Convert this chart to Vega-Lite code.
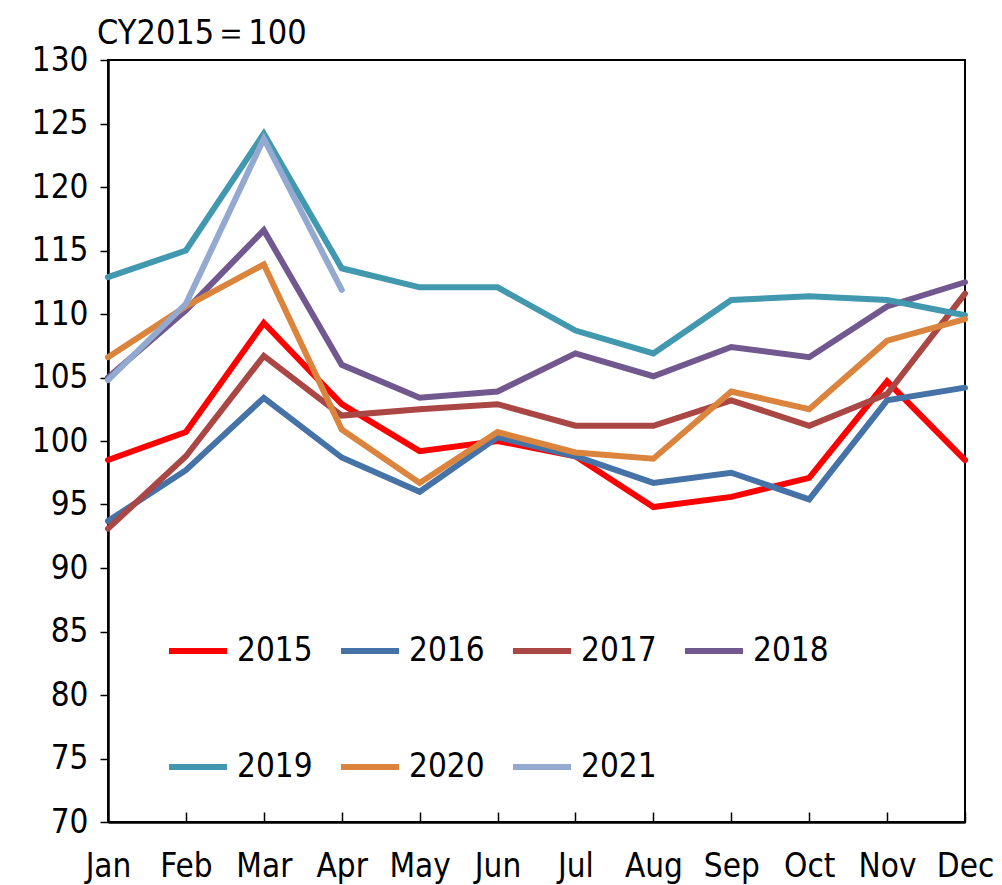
{
  "$schema": "https://vega.github.io/schema/vega-lite/v6.json",
  "width": 857,
  "height": 762,
  "autosize": {"type": "none"},
  "padding": {"left": 108, "top": 60, "right": 37, "bottom": 63},
  "background": "white",
  "config": {
    "font": "DejaVu Sans Condensed, sans-serif",
    "view": {"stroke": "black", "strokeWidth": 2}
  },
  "title": {
    "text": "CY2015＝100",
    "anchor": "start",
    "frame": "group",
    "dx": -11,
    "dy": 25,
    "offset": 18,
    "fontSize": 34,
    "fontWeight": "normal",
    "color": "black",
    "font": "DejaVu Sans Condensed, sans-serif"
  },
  "data": {
    "values": [
      {"year": "2015", "month": "Jan", "value": 98.5},
      {"year": "2015", "month": "Feb", "value": 100.7},
      {"year": "2015", "month": "Mar", "value": 109.3},
      {"year": "2015", "month": "Apr", "value": 102.9},
      {"year": "2015", "month": "May", "value": 99.2},
      {"year": "2015", "month": "Jun", "value": 100.0},
      {"year": "2015", "month": "Jul", "value": 98.8},
      {"year": "2015", "month": "Aug", "value": 94.8},
      {"year": "2015", "month": "Sep", "value": 95.6},
      {"year": "2015", "month": "Oct", "value": 97.1},
      {"year": "2015", "month": "Nov", "value": 104.7},
      {"year": "2015", "month": "Dec", "value": 98.5},
      {"year": "2016", "month": "Jan", "value": 93.7},
      {"year": "2016", "month": "Feb", "value": 97.7},
      {"year": "2016", "month": "Mar", "value": 103.4},
      {"year": "2016", "month": "Apr", "value": 98.7},
      {"year": "2016", "month": "May", "value": 96.0},
      {"year": "2016", "month": "Jun", "value": 100.3},
      {"year": "2016", "month": "Jul", "value": 98.8},
      {"year": "2016", "month": "Aug", "value": 96.7},
      {"year": "2016", "month": "Sep", "value": 97.5},
      {"year": "2016", "month": "Oct", "value": 95.4},
      {"year": "2016", "month": "Nov", "value": 103.2},
      {"year": "2016", "month": "Dec", "value": 104.2},
      {"year": "2017", "month": "Jan", "value": 93.1},
      {"year": "2017", "month": "Feb", "value": 98.8},
      {"year": "2017", "month": "Mar", "value": 106.7},
      {"year": "2017", "month": "Apr", "value": 102.0},
      {"year": "2017", "month": "May", "value": 102.5},
      {"year": "2017", "month": "Jun", "value": 102.9},
      {"year": "2017", "month": "Jul", "value": 101.2},
      {"year": "2017", "month": "Aug", "value": 101.2},
      {"year": "2017", "month": "Sep", "value": 103.2},
      {"year": "2017", "month": "Oct", "value": 101.2},
      {"year": "2017", "month": "Nov", "value": 103.7},
      {"year": "2017", "month": "Dec", "value": 111.6},
      {"year": "2018", "month": "Jan", "value": 105.0},
      {"year": "2018", "month": "Feb", "value": 110.3},
      {"year": "2018", "month": "Mar", "value": 116.6},
      {"year": "2018", "month": "Apr", "value": 106.0},
      {"year": "2018", "month": "May", "value": 103.4},
      {"year": "2018", "month": "Jun", "value": 103.9},
      {"year": "2018", "month": "Jul", "value": 106.9},
      {"year": "2018", "month": "Aug", "value": 105.1},
      {"year": "2018", "month": "Sep", "value": 107.4},
      {"year": "2018", "month": "Oct", "value": 106.6},
      {"year": "2018", "month": "Nov", "value": 110.6},
      {"year": "2018", "month": "Dec", "value": 112.5},
      {"year": "2019", "month": "Jan", "value": 112.9},
      {"year": "2019", "month": "Feb", "value": 115.0},
      {"year": "2019", "month": "Mar", "value": 124.2},
      {"year": "2019", "month": "Apr", "value": 113.6},
      {"year": "2019", "month": "May", "value": 112.1},
      {"year": "2019", "month": "Jun", "value": 112.1},
      {"year": "2019", "month": "Jul", "value": 108.7},
      {"year": "2019", "month": "Aug", "value": 106.9},
      {"year": "2019", "month": "Sep", "value": 111.1},
      {"year": "2019", "month": "Oct", "value": 111.4},
      {"year": "2019", "month": "Nov", "value": 111.1},
      {"year": "2019", "month": "Dec", "value": 109.9},
      {"year": "2020", "month": "Jan", "value": 106.6},
      {"year": "2020", "month": "Feb", "value": 110.6},
      {"year": "2020", "month": "Mar", "value": 113.9},
      {"year": "2020", "month": "Apr", "value": 100.9},
      {"year": "2020", "month": "May", "value": 96.7},
      {"year": "2020", "month": "Jun", "value": 100.7},
      {"year": "2020", "month": "Jul", "value": 99.1},
      {"year": "2020", "month": "Aug", "value": 98.6},
      {"year": "2020", "month": "Sep", "value": 103.9},
      {"year": "2020", "month": "Oct", "value": 102.5},
      {"year": "2020", "month": "Nov", "value": 107.9},
      {"year": "2020", "month": "Dec", "value": 109.6},
      {"year": "2021", "month": "Jan", "value": 104.8},
      {"year": "2021", "month": "Feb", "value": 110.8},
      {"year": "2021", "month": "Mar", "value": 123.8},
      {"year": "2021", "month": "Apr", "value": 111.9}
    ]
  },
  "mark": {"type": "line", "strokeWidth": 6, "strokeCap": "round", "strokeJoin": "miter"},
  "encoding": {
    "x": {
      "field": "month",
      "type": "ordinal",
      "sort": ["Jan", "Feb", "Mar", "Apr", "May", "Jun", "Jul", "Aug", "Sep", "Oct", "Nov", "Dec"],
      "scale": {"type": "point", "padding": 0},
      "axis": {
        "title": null,
        "labelAngle": 0,
        "labelFontSize": 33,
        "labelColor": "black",
        "labelPadding": 38,
        "labelBaseline": "top",
        "labelFlush": false,
        "tickSize": -10,
        "tickColor": "black",
        "tickWidth": 1.5,
        "domainColor": "black",
        "domainWidth": 2.5,
        "grid": false
      }
    },
    "y": {
      "field": "value",
      "type": "quantitative",
      "scale": {"domain": [70, 130], "nice": false, "zero": false},
      "axis": {
        "title": null,
        "values": [70, 75, 80, 85, 90, 95, 100, 105, 110, 115, 120, 125, 130],
        "labelFontSize": 33,
        "labelColor": "black",
        "labelPadding": 12,
        "tickSize": 8,
        "tickColor": "black",
        "tickWidth": 1.5,
        "domainColor": "black",
        "domainWidth": 2.5,
        "grid": false
      }
    },
    "color": {
      "field": "year",
      "type": "nominal",
      "scale": {
        "domain": ["2015", "2016", "2017", "2018", "2019", "2020", "2021"],
        "range": ["#FF0000", "#4572A7", "#AA4643", "#71588F", "#4198AF", "#DB843D", "#93A9CF"]
      },
      "legend": {
        "title": null,
        "orient": "none",
        "legendX": 58,
        "legendY": 559,
        "columns": 4,
        "direction": "horizontal",
        "symbolType": "stroke",
        "symbolSize": 3364,
        "symbolStrokeWidth": 6,
        "labelFontSize": 33,
        "labelColor": "black",
        "labelOffset": 7,
        "columnPadding": 16,
        "rowPadding": 67,
        "gridAlign": "all"
      }
    }
  }
}
